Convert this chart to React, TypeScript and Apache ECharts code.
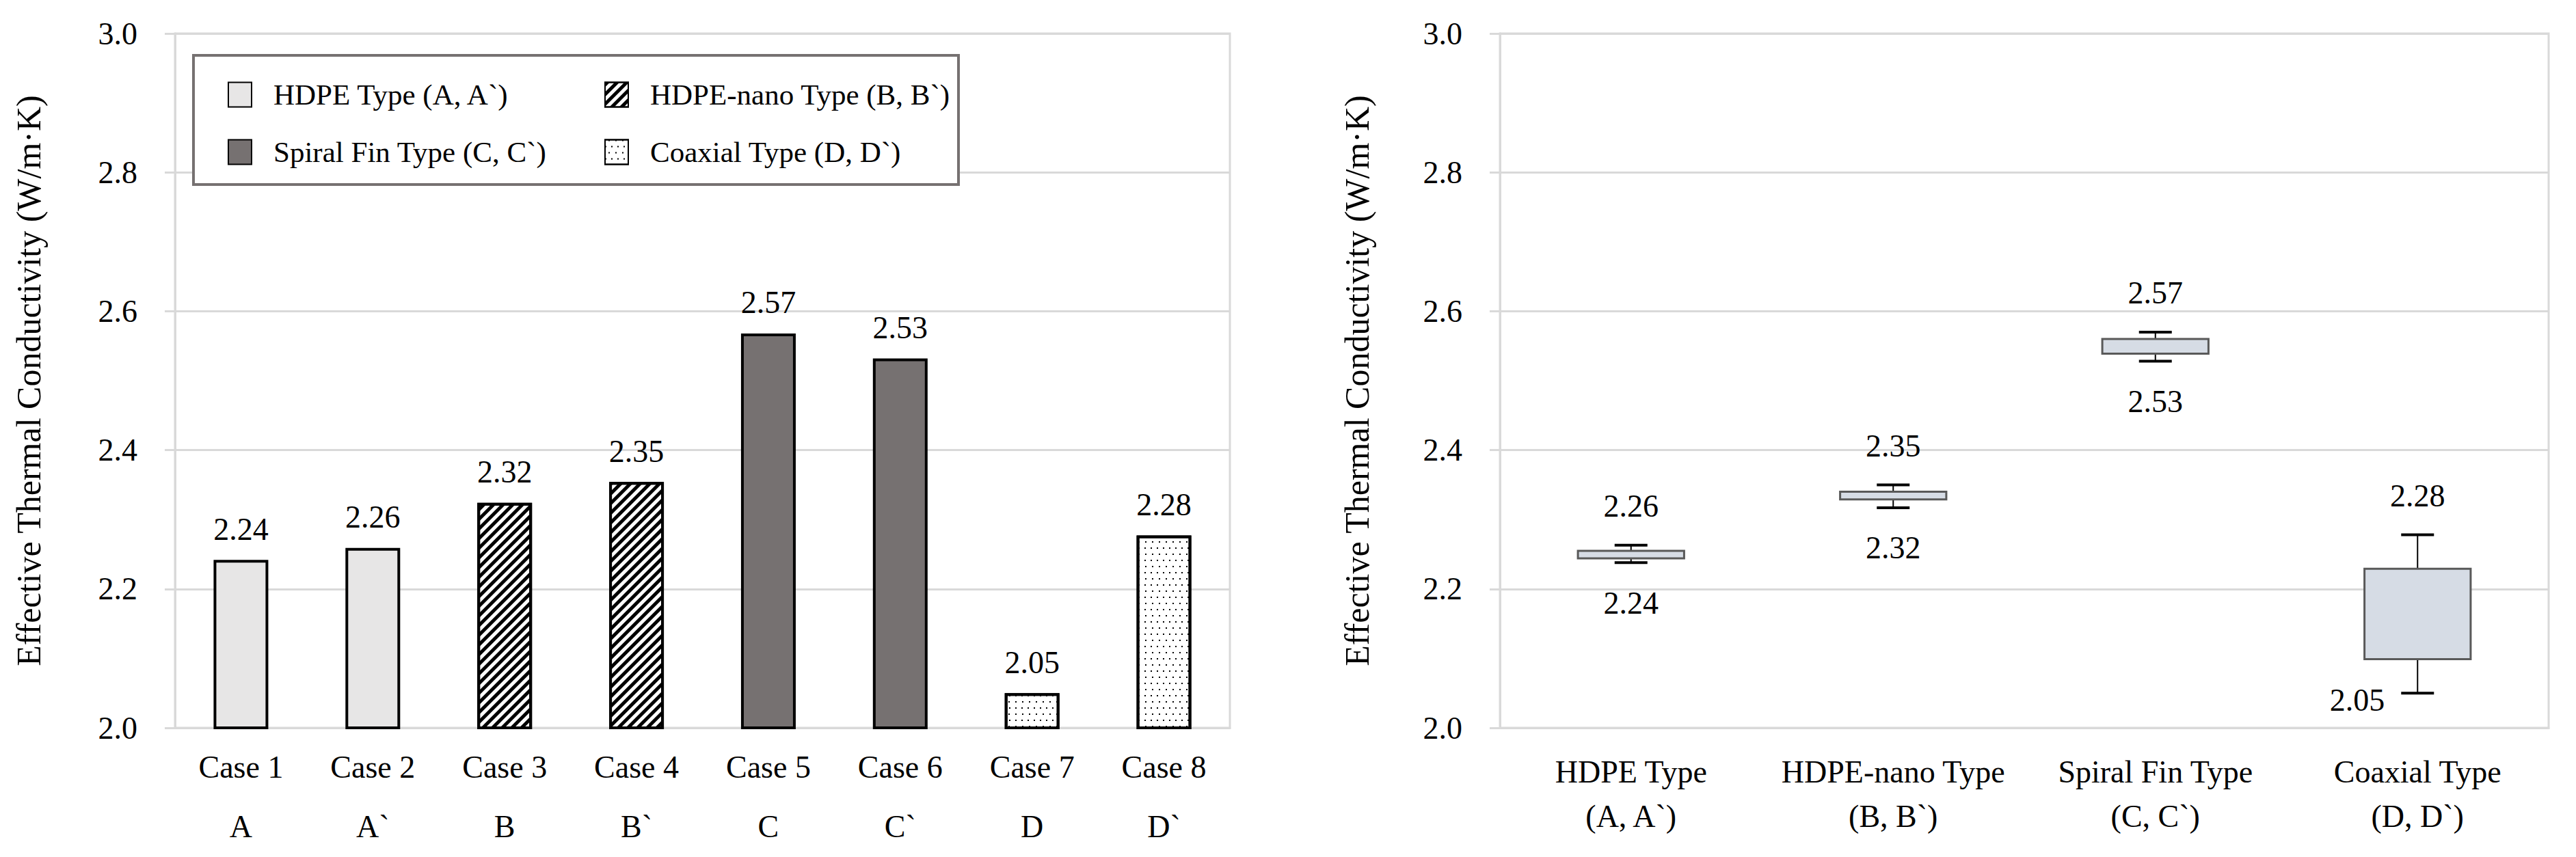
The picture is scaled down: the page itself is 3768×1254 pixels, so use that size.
import React, { useEffect, useRef } from "react";
import * as echarts from "echarts";

// ---- Data ----
const caseNames = ["Case 1", "Case 2", "Case 3", "Case 4", "Case 5", "Case 6", "Case 7", "Case 8"];
const caseLetters = ["A", "A`", "B", "B`", "C", "C`", "D", "D`"];
const caseValues = [2.242, 2.259, 2.324, 2.354, 2.568, 2.532, 2.05, 2.277];
const caseType = [0, 0, 1, 1, 2, 2, 3, 3];
const typeNames = ["HDPE Type (A, A`)", "HDPE-nano Type (B, B`)", "Spiral Fin Type (C, C`)", "Coaxial Type (D, D`)"];

const boxCategories = ["HDPE Type\n(A, A`)", "HDPE-nano Type\n(B, B`)", "Spiral Fin Type\n(C, C`)", "Coaxial Type\n(D, D`)"];
const boxMin = [2.238, 2.317, 2.528, 2.05];
const boxQ1 = [2.244, 2.329, 2.539, 2.099];
const boxQ3 = [2.255, 2.34, 2.56, 2.229];
const boxMax = [2.263, 2.35, 2.57, 2.278];
const boxMinLabelSide = ["below", "below", "below", "left"];

const yTicks = [2.0, 2.2, 2.4, 2.6, 2.8, 3.0];
const yTitle = "Effective Thermal Conductivity (W/m·K)";

const FONT = "Liberation Serif";
const GRID_C = "#d9d9d9";

export default function App() {
  const ref = useRef<HTMLDivElement>(null);
  useEffect(() => {
    document.body.style.margin = "0";
    const chart = echarts.init(ref.current!, null, { renderer: "svg" });

    const typeStyles: any[] = [
      { color: "#e7e6e6", borderColor: "#000", borderWidth: 4 },
      {
        color: "#ffffff",
        borderColor: "#000",
        borderWidth: 4,
        decal: { symbol: "rect", symbolSize: 1, color: "#000", dashArrayX: [1, 0], dashArrayY: [5, 5], rotation: -Math.PI / 4 },
      },
      { color: "#767171", borderColor: "#000", borderWidth: 4 },
      {
        color: "#ffffff",
        borderColor: "#000",
        borderWidth: 4,
        decal: {
          symbol: "rect",
          symbolSize: 1,
          color: "#000",
          dashArrayX: [[2, 7], [0, 4.5, 2, 2.5]],
          dashArrayY: [2, 7],
          rotation: 0,
        },
      },
    ];

    const barSeries = typeNames.map((name, t) => ({
      name,
      type: "bar",
      xAxisIndex: 0,
      yAxisIndex: 0,
      barWidth: 80,
      barGap: "-100%",
      data: caseValues.map((v, i) => (caseType[i] === t ? v : "-")),
      itemStyle: typeStyles[t],
      label: {
        show: true,
        position: "top",
        distance: 22,
        fontSize: 46,
        fontFamily: FONT,
        color: "#000",
        formatter: (p: any) => Number(p.value).toFixed(2),
      },
    }));

    const boxData = boxCategories.map((_, i) => [i, boxMin[i], boxQ1[i], boxQ3[i], boxMax[i]]);

    const yAxisBase = (gridIndex: number, gap: number) => ({
      type: "value",
      gridIndex,
      min: 2.0,
      max: 3.0,
      interval: 0.2,
      name: yTitle,
      nameLocation: "middle",
      nameRotate: 90,
      nameGap: gap,
      nameTextStyle: { fontSize: 50, fontFamily: FONT, color: "#000" },
      axisLine: { show: true, lineStyle: { color: GRID_C, width: 3 } },
      axisTick: { show: true, inside: false, length: 15, lineStyle: { color: GRID_C, width: 3 } },
      splitLine: { show: true, lineStyle: { color: GRID_C, width: 3 } },
      axisLabel: {
        margin: 55,
        fontSize: 46,
        fontFamily: FONT,
        color: "#000",
        formatter: (v: number) => {
          const t = yTicks.find((k) => Math.abs(k - v) < 1e-6);
          return (t !== undefined ? t : v).toFixed(1);
        },
      },
    });

    const legendText = { fontSize: 43, fontFamily: FONT, color: "#000", lineHeight: 40, padding: [0, 0, 0, 27] };

    const option: any = {
      animation: false,
      backgroundColor: "#fff",
      textStyle: { fontFamily: FONT },
      grid: [
        { left: 256, top: 49, width: 1543, height: 1016, show: true, borderColor: GRID_C, borderWidth: 3 },
        { left: 2194, top: 49, width: 1534, height: 1016, show: true, borderColor: GRID_C, borderWidth: 3 },
      ],
      legend: [
        {
          data: [typeNames[0], typeNames[2]],
          orient: "vertical",
          left: 328,
          top: 112,
          itemWidth: 34,
          itemHeight: 36,
          itemGap: 41,
          icon: "rect",
          selectedMode: false,
          z: 5,
          textStyle: legendText,
        },
        {
          data: [typeNames[1], typeNames[3]],
          orient: "vertical",
          left: 879,
          top: 112,
          itemWidth: 34,
          itemHeight: 36,
          itemGap: 41,
          icon: "rect",
          selectedMode: false,
          z: 5,
          textStyle: legendText,
        },
      ],
      graphic: [
        {
          type: "rect",
          left: 281,
          top: 79,
          z: 3,
          shape: { width: 1119, height: 189 },
          style: { fill: "#fff", stroke: "#767171", lineWidth: 4 },
        },
      ],
      xAxis: [
        {
          type: "category",
          gridIndex: 0,
          data: caseNames,
          axisLine: { show: true, lineStyle: { color: GRID_C, width: 3 } },
          axisTick: { show: false },
          splitLine: { show: false },
          axisLabel: {
            interval: 0,
            margin: 14,
            fontFamily: FONT,
            formatter: (v: string, i: number) => `{c|${v}}\n{l|${caseLetters[i]}}`,
            rich: {
              c: { fontSize: 46, fontFamily: FONT, color: "#000", lineHeight: 87 },
              l: { fontSize: 46, fontFamily: FONT, color: "#000", lineHeight: 87 },
            },
          },
        },
        {
          type: "category",
          gridIndex: 1,
          data: boxCategories,
          axisLine: { show: true, lineStyle: { color: GRID_C, width: 3 } },
          axisTick: { show: false },
          splitLine: { show: false },
          axisLabel: {
            interval: 0,
            margin: 32,
            fontSize: 46,
            fontFamily: FONT,
            color: "#000",
            lineHeight: 65,
          },
        },
      ],
      yAxis: [yAxisBase(0, 189), yAxisBase(1, 184)],
      series: [
        ...barSeries,
        {
          type: "custom",
          name: "box",
          xAxisIndex: 1,
          yAxisIndex: 1,
          clip: false,
          encode: { x: 0, y: [1, 2, 3, 4] },
          data: boxData,
          renderItem: (params: any, api: any) => {
            const idx = api.value(0);
            const vMin = api.value(1);
            const vQ1 = api.value(2);
            const vQ3 = api.value(3);
            const vMax = api.value(4);
            const pMin = api.coord([idx, vMin]);
            const pQ1 = api.coord([idx, vQ1]);
            const pQ3 = api.coord([idx, vQ3]);
            const pMax = api.coord([idx, vMax]);
            const band = api.size([1, 0])[0];
            const boxW = band * 0.405;
            const capW = 48;
            const cx = pMin[0];
            const textStyle = { fontSize: 46, fontFamily: FONT, fill: "#000" };
            const side = boxMinLabelSide[params.dataIndex];
            const minLabel =
              side === "left"
                ? { type: "text", style: { ...textStyle, text: vMin.toFixed(2), x: cx - 48, y: pMin[1] + 10, align: "right", verticalAlign: "middle" } }
                : { type: "text", style: { ...textStyle, text: vMin.toFixed(2), x: cx, y: pMin[1] + 59, align: "center", verticalAlign: "middle" } };
            return {
              type: "group",
              children: [
                { type: "line", shape: { x1: cx, y1: pMax[1], x2: cx, y2: pQ3[1] }, style: { stroke: "#000", lineWidth: 2 } },
                { type: "line", shape: { x1: cx, y1: pQ1[1], x2: cx, y2: pMin[1] }, style: { stroke: "#000", lineWidth: 2 } },
                { type: "line", shape: { x1: cx - capW / 2, y1: pMax[1], x2: cx + capW / 2, y2: pMax[1] }, style: { stroke: "#000", lineWidth: 4 } },
                { type: "line", shape: { x1: cx - capW / 2, y1: pMin[1], x2: cx + capW / 2, y2: pMin[1] }, style: { stroke: "#000", lineWidth: 4 } },
                {
                  type: "rect",
                  shape: { x: cx - boxW / 2, y: pQ3[1], width: boxW, height: pQ1[1] - pQ3[1] },
                  style: { fill: "#d6dce5", stroke: "#595959", lineWidth: 3 },
                },
                { type: "text", style: { ...textStyle, text: vMax.toFixed(2), x: cx, y: pMax[1] - 57, align: "center", verticalAlign: "middle" } },
                minLabel,
              ],
            };
          },
        },
      ],
    };

    chart.setOption(option);
    return () => chart.dispose();
  }, []);

  return <div ref={ref} style={{ width: 3768, height: 1254 }} />;
}
